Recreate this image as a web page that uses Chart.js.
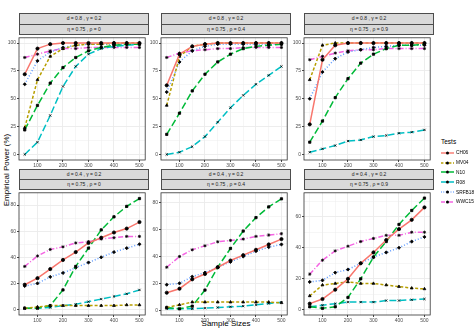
<!DOCTYPE html>
<html>
<head>
<meta charset="utf-8">
<script src="https://cdn.jsdelivr.net/npm/chart.js@4.4.1/dist/chart.umd.min.js"></script>
<style>
  body { margin:0; width:474px; height:328px; background:#fff; position:relative; overflow:hidden;
         font-family:"Liberation Sans", Arial, sans-serif; }
  canvas { position:absolute; }
  .strip { position:absolute; background:#d9d9d9; border:1px solid #4d4d4d; box-sizing:border-box;
           font-size:5px; color:#1a1a1a; text-align:center; white-space:nowrap; }
  .ttl { position:absolute; font-size:8px; color:#000; white-space:nowrap; }
  #legend { position:absolute; left:441px; top:138px; font-size:4.8px; color:#000; white-space:nowrap; }
  #legend .head { font-size:6.5px; margin-bottom:3px; }
  #legend .row { height:9.8px; display:flex; align-items:center; }
  #legend canvas { position:static; margin-right:2px; }
</style>
</head>
<body>
<div id="legend"></div>
<div class="ttl" style="left:226px; top:319px; transform:translateX(-50%);">Sample Sizes</div>
<div class="ttl" style="left:6px; top:170px; transform:translate(-50%,-50%) rotate(-90deg);">Empirical Power (%)</div>
<script>
'use strict';

/* ── data ── */
const sampleSizes = [50,100,150,200,250,300,350,400,450,500];
const tests = ['CH06','MV04','N10','R08','SRFB18','WWC15'];

// rows in tests order
const power_d08_rho0 = [
  [72,95,99,100,100,100,100,100,100,100],
  [24,67,88,95,98,99,99,100,100,100],
  [22,44,64,78,87,93,96,98,99,99],
  [0,11,35,61,79,90,95,97,98,99],
  [63,84,92,96,98,99,99,99,99,99],
  [87,90,93,95,95,96,96,96,96,96]
];
const power_d08_rho04 = [
  [62,90,97,99,100,100,100,100,100,100],
  [44,88,97,99,100,100,100,100,100,100],
  [18,37,57,72,83,90,95,97,98,99],
  [0,2,7,16,29,42,53,63,71,79],
  [56,83,93,97,99,99,99,99,99,99],
  [87,91,93,94,95,95,96,96,96,96]
];
const power_d08_rho09 = [
  [27,85,98,100,100,100,100,100,100,100],
  [67,98,100,100,100,100,100,100,100,100],
  [11,30,51,68,82,90,95,98,98,99],
  [2,5,8,12,13,16,17,19,20,22],
  [50,74,86,92,94,96,97,98,98,98],
  [85,88,91,93,94,94,95,95,95,95]
];
const power_d04_rho0 = [
  [19,24,31,38,44,51,55,59,62,67],
  [1,2,3,3,3,3,3,3,3.5,3.5],
  [1,1,3,15,33,47,61,71,79,85],
  [1,1,1.5,3,4,6,8,10,12,15],
  [18,20,25,28,32,36,40,44,47,50],
  [33,41,46,48,51,52,54,55,56,56]
];
const power_d04_rho04 = [
  [13,16,23,27,32,37,41,45,49,53],
  [2,4,6,6,6,6,6,6,6,5.5],
  [2,1,3,15,32,46,59,69,77,83],
  [1,1,1,1.5,2,2.5,3,4,5,6],
  [19,20,25,28,32,36,40,44,47,49],
  [32,40,45,48,51,52,53,55,56,57]
];
const power_d04_rho09 = [
  [4,7,13,20,30,37,45,52,58,66],
  [9,16,17,18,17,17,16,15,14,13.5],
  [2,1,2,8,20,34,44,55,64,72],
  [2,3,4,5,5,5,6,6,6.5,7],
  [18,19,24,26,30,34,37,40,44,47],
  [23,32,38,41,44,46,48,48,50,50]
];

const stripTop = ['d = 0.8 , γ = 0.2','d = 0.4 , γ = 0.2'];
const stripBottom = ['η = 0.75 , ρ = 0','η = 0.75 , ρ = 0.4','η = 0.75 , ρ = 0.9'];
const xTicks = [100,200,300,400,500];
const yTicksTop = [0,25,50,75,100];
const yTicksBottom = [0,20,40,60,80];

/* ── styles ── */
const COLORS = ['#F8766D','#B79F00','#00BA38','#00BFC4','#619CFF','#F564E3'];
const DASHES = [[], [3,2], [7,3], [7,3], [1,2], [5,2,1,2]];
const SHAPES = ['circle','triangle','rect','crossRot','rectRot','star'];
const COL_LEFT = [19,161,304], PLOT_W = 129;
const ROWS = [{strip:13, top:34, bottom:158.5}, {strip:168.8, top:189.3, bottom:314}];
const Y_LEFT = 18;

const frame = {
  id:'frame',
  afterDraw(c){
    const a=c.chartArea, g=c.ctx;
    g.save(); g.strokeStyle='#333'; g.lineWidth=0.8;
    g.strokeRect(a.left, a.top, a.right-a.left, a.bottom-a.top);
    g.restore();
  }
};

function addStrip(txt, left, top, h){
  const d=document.createElement('div');
  d.className='strip'; d.textContent=txt;
  d.style.left=left+'px'; d.style.top=top+'px';
  d.style.width=(PLOT_W+1)+'px'; d.style.height=(h+1)+'px'; d.style.lineHeight=(h-1)+'px';
  document.body.appendChild(d);
}

function makePanel(idx, series, yMin, yMax, majors, minorStep){
  const col=idx%3, row=Math.floor(idx/3), R=ROWS[row];
  const plotH=R.bottom-R.top, sh=(R.top-R.strip)/2;
  addStrip(stripTop[row], COL_LEFT[col], R.strip, sh);
  addStrip(stripBottom[col], COL_LEFT[col], R.strip+sh, sh);

  const cv=document.createElement('canvas');
  const W=Y_LEFT+PLOT_W+2, H=Math.round(plotH+12);
  cv.width=W; cv.height=H;
  cv.style.left=(COL_LEFT[col]-Y_LEFT)+'px'; cv.style.top=(R.top-1)+'px';
  document.body.appendChild(cv);

  const yVals=[];
  for(let v=majors[0]; v<=yMax; v+=minorStep) if(v>=yMin) yVals.push(v);
  const isMajorY=v=>majors.includes(v);
  const isMajorX=v=>v%100===0;

  new Chart(cv,{
    type:'line',
    data:{datasets: tests.map((t,i)=>({
      label:t,
      data: sampleSizes.map((x,j)=>({x, y:series[i][j]})),
      borderColor:COLORS[i], borderDash:DASHES[i], borderWidth:1.5,
      pointStyle:SHAPES[i], pointRadius:1.6, pointBorderWidth:0.8,
      pointBackgroundColor:'#000', pointBorderColor:'#000', tension:0, fill:false
    }))},
    options:{
      responsive:false, animation:false, devicePixelRatio:1,
      layout:{padding:{top:1,right:2,left:0,bottom:0}},
      plugins:{legend:{display:false}, tooltip:{enabled:false}},
      scales:{
        x:{type:'linear', min:27.5, max:522.5,
          afterBuildTicks:s=>{ s.ticks=sampleSizes.map(v=>({value:v})); },
          afterFit:s=>{ s.height=10; s.paddingLeft=0; s.paddingRight=0; },
          ticks:{autoSkip:false, maxRotation:0, padding:1, color:'#4d4d4d',
            font:{size:5, family:'"Liberation Sans", Arial'},
            callback:v=>xTicks.includes(v)?String(v):''},
          grid:{color:'#ebebeb', drawTicks:true, tickLength:2,
            lineWidth:c=>c.tick&&isMajorX(c.tick.value)?0.9:0.45,
            tickColor:c=>c.tick&&isMajorX(c.tick.value)?'#333':'rgba(0,0,0,0)'},
          border:{display:false}},
        y:{type:'linear', min:yMin, max:yMax,
          afterBuildTicks:s=>{ s.ticks=yVals.map(v=>({value:v})); },
          afterFit:s=>{ s.width=Y_LEFT; s.paddingTop=0; s.paddingBottom=0; },
          ticks:{autoSkip:false, padding:1, color:'#4d4d4d',
            font:{size:5, family:'"Liberation Sans", Arial'},
            callback:v=>isMajorY(v)?String(v):''},
          grid:{color:'#ebebeb', drawTicks:true, tickLength:2,
            lineWidth:c=>c.tick&&isMajorY(c.tick.value)?0.9:0.45,
            tickColor:c=>c.tick&&isMajorY(c.tick.value)?'#333':'rgba(0,0,0,0)'},
          border:{display:false}}
      }
    },
    plugins:[frame]
  });
}

makePanel(0, power_d08_rho0, -5, 104.7, yTicksTop, 12.5);
makePanel(1, power_d08_rho04, -5, 104.7, yTicksTop, 12.5);
makePanel(2, power_d08_rho09, -5, 104.7, yTicksTop, 12.5);
makePanel(3, power_d04_rho0, -4.2, 89.4, yTicksBottom, 10);
makePanel(4, power_d04_rho04, -3.6, 87.5, yTicksBottom, 10);
makePanel(5, power_d04_rho09, -3.3, 75.4, yTicksBottom.slice(0,4), 10);

/* ── legend ── */
const lg=document.getElementById('legend');
lg.innerHTML='<div class="head">Tests</div>';
tests.forEach((t,i)=>{
  const r=document.createElement('div'); r.className='row';
  const k=document.createElement('canvas'); k.width=13; k.height=6;
  const g=k.getContext('2d');
  g.strokeStyle=COLORS[i]; g.lineWidth=1.4; g.setLineDash(DASHES[i].map(v=>v*0.8));
  g.beginPath(); g.moveTo(0,3); g.lineTo(13,3); g.stroke();
  g.setLineDash([]); g.fillStyle='#000'; g.beginPath(); g.arc(6.5,3,1.5,0,Math.PI*2); g.fill();
  r.appendChild(k);
  const s=document.createElement('span'); s.textContent=t; r.appendChild(s);
  lg.appendChild(r);
});
</script>
</body>
</html>
